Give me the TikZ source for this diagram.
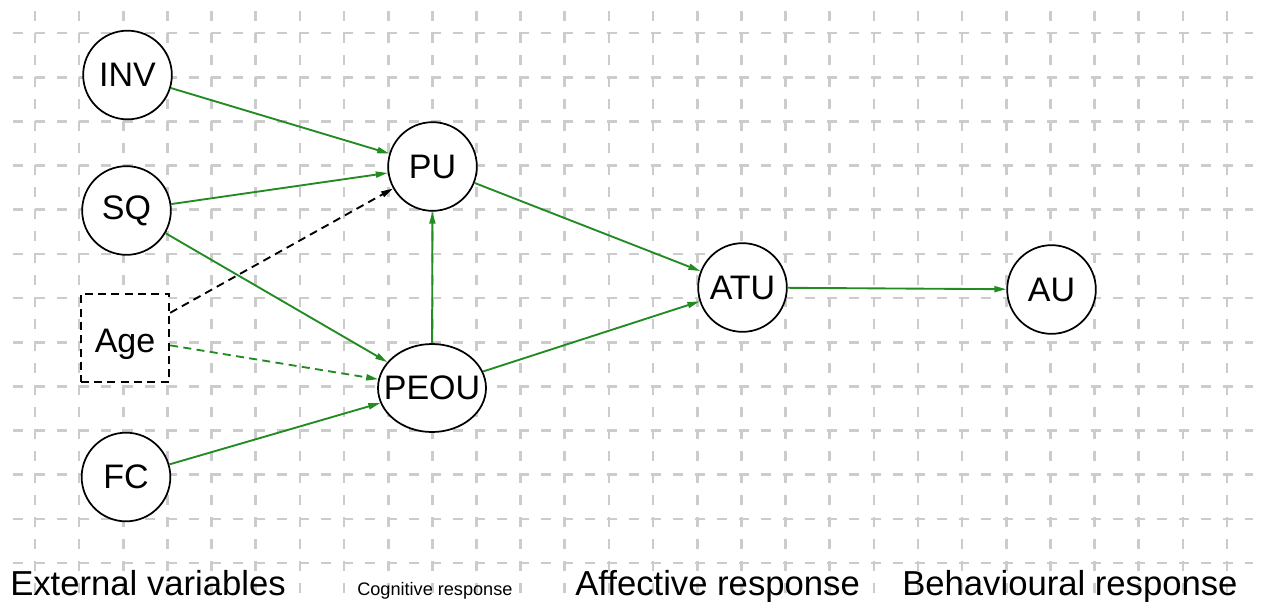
\documentclass[tikz,border=0pt]{standalone}
\usepackage{fontspec}
\setmainfont{Liberation Sans}
\usetikzlibrary{shapes,arrows.meta}
\definecolor{gridgray}{RGB}{204,204,204}
\definecolor{pathgreen}{RGB}{34,139,34}
\tikzstyle{grid line}=[color=gridgray, line width=2pt, dash pattern=on 7.5pt off 9pt]
\tikzstyle{construct}=[circle, draw, fill=white, line width=1.3pt, minimum size=66.5pt, inner sep=0pt, font=\fontsize{25.5}{30}\selectfont]
\tikzstyle{oval}=[construct, ellipse, minimum width=81pt, minimum height=66pt]
\tikzstyle{extra}=[construct, rectangle, dash pattern=on 6pt off 4pt, minimum width=66.5pt, minimum height=66pt, text height=21pt, text depth=0pt]
\tikzstyle{link}=[-{Triangle[length=9pt,width=4.5pt]}, color=pathgreen, line width=1.4pt]
\tikzstyle{maybe}=[link, dash pattern=on 6pt off 4pt]
\tikzstyle{stage}=[anchor=base west, inner sep=0pt]

\begin{document}
\begin{tikzpicture}[x=0.75pt, y=-0.75pt]
			\useasboundingbox (0,0) rectangle (1263,601);
			% the dashed grid in the back, using two loops
			\foreach \x in {0,...,27}{
				\draw[grid line] (35+44.15*\x, 11) -- (35+44.15*\x, 601);
			}
			\foreach \y in {0,...,12}{
				\draw[grid line] (13, 33+44.17*\y) -- (1253, 33+44.17*\y);
			}
			% constructs
			\node[construct] (inv) at (127.5,75) {INV};
			\node[construct] (sq) at (126.5,210.5) {SQ};
			\node[extra] (age) at (125,338) {Age};
			\node[construct] (fc) at (126,477) {FC};
			\node[construct] (pu) at (432.5,166.5) {PU};
			\node[oval] (peou) at (432,388) {\makebox[0pt]{PEOU}};
			\node[construct] (atu) at (742.5,287.5) {ATU};
			\node[construct] (au) at (1051.5,289.5) {AU};
			% paths
			\draw[link] (inv) -- (pu);
			\draw[link] (sq) -- (pu);
			\draw[link] (sq) -- (peou);
			\draw[link] (fc) -- (peou);
			\draw[link] (peou) -- (pu);
			\draw[link] (pu) -- (atu);
			\draw[link] (peou) -- (atu);
			\draw[link] (atu) -- (au);
			\draw[maybe, color=black] (age) -- (pu);
			\draw[maybe] (age) -- (peou);
			% stages at the bottom
			\node[stage, font=\fontsize{26}{30}\selectfont] (ext) at (10,595) {External variables};
			\node[stage, font=\fontsize{13.6}{16}\selectfont] (cog) at (357,595) {Cognitive response};
			\node[stage, font=\fontsize{26}{30}\selectfont] (aff) at (575,595) {Affective response};
			\node[stage, font=\fontsize{26}{30}\selectfont] (beh) at (902,595) {Behavioural response};
		\end{tikzpicture}
\end{document}
